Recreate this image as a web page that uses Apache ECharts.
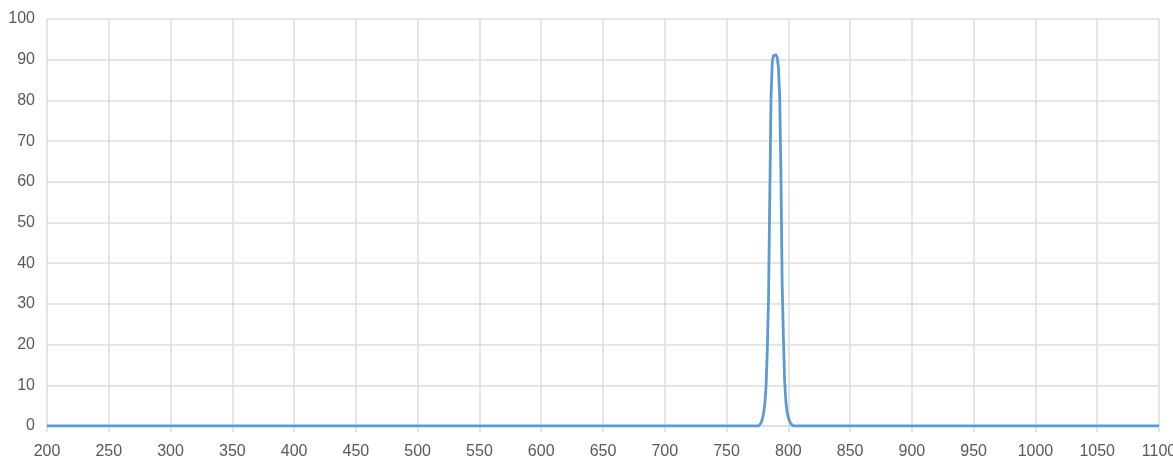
<!DOCTYPE html>
<html>
<head>
<meta charset="utf-8">
<script src="https://cdn.jsdelivr.net/npm/echarts@6/dist/echarts.min.js"></script>
<style>
  html, body { margin: 0; padding: 0; background: #fff; }
  #main { width: 1173px; height: 462px; }
</style>
</head>
<body>
<div id="main"></div>
<script>
// wavelength (nm) and transmission (%)
var wavelength = [200, 776, 777, 778, 779, 780, 781, 782, 783, 784, 785, 786, 787, 788, 789,
    790, 791, 792, 793, 794, 795, 796, 797, 798, 799, 800, 801, 802, 803, 804, 1100];
var transmission = [0, 0, 0.3, 0.8, 1.8, 3.2, 5.5, 10, 19, 32, 57, 81, 89.5, 91, 91.2,
    91.2, 90.6, 88, 81, 62, 35, 22, 11, 6, 3.5, 2, 1.2, 0.6, 0.2, 0, 0];

var xMin = 200, xMax = 1100, xStep = 50;
var yMin = 0, yMax = 100, yStep = 10;

var points = wavelength.map(function (w, i) { return [w, transmission[i]]; });

var myChart = echarts.init(document.getElementById('main'));
var gridColor = '#dddcdf';
var labelColor = '#595959';
var option = {
    animation: false,
    backgroundColor: '#fff',
    grid: {
        left: 47,
        right: 14,
        top: 19,
        bottom: 36,
        containLabel: false,
        outerBoundsMode: 'none'
    },
    xAxis: {
        type: 'value',
        min: xMin,
        max: xMax,
        interval: xStep,
        axisLine: {
            show: true,
            lineStyle: { color: gridColor, width: 1.5 }
        },
        axisTick: {
            show: true,
            length: 6,
            lineStyle: { color: gridColor, width: 1.5 }
        },
        axisLabel: {
            color: labelColor,
            fontFamily: 'Liberation Sans',
            fontSize: 16,
            margin: 18,
            showMaxLabel: true,
            formatter: function (v) { return String(v); }
        },
        splitLine: {
            show: true,
            lineStyle: { color: gridColor, width: 1.5 }
        }
    },
    yAxis: {
        type: 'value',
        min: yMin,
        max: yMax,
        interval: yStep,
        axisLine: { show: false },
        axisTick: { show: false },
        axisLabel: {
            color: labelColor,
            fontFamily: 'Liberation Sans',
            fontSize: 16,
            margin: 12
        },
        splitLine: {
            show: true,
            lineStyle: { color: gridColor, width: 1.5 }
        }
    },
    series: [
        {
            type: 'line',
            data: points,
            showSymbol: false,
            smooth: false,
            lineStyle: { color: '#5b9bd5', width: 2.8, join: 'round' },
            itemStyle: { color: '#5b9bd5' }
        }
    ]
};
myChart.setOption(option);
</script>
</body>
</html>
